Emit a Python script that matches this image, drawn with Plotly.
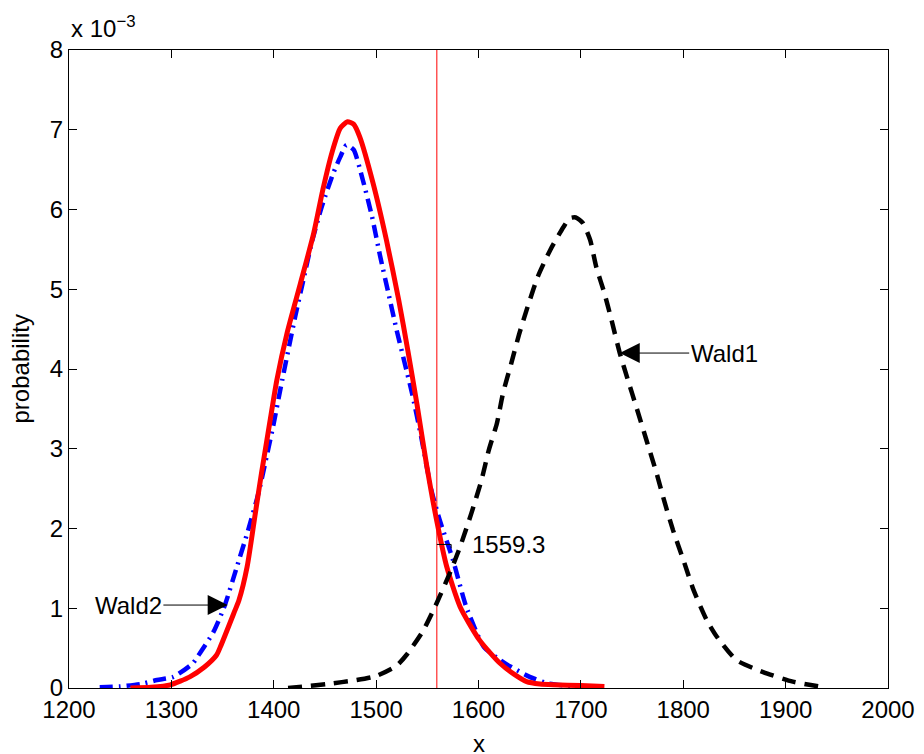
import plotly.graph_objects as go

# ---- data (probability values in units of 1e-3) ----
wald_red_x = [1260, 1280, 1299, 1318, 1332, 1344, 1348, 1362, 1366, 1374, 1382, 1388, 1396, 1403,
              1413, 1426, 1439, 1448, 1457, 1465, 1472, 1478, 1484, 1497, 1510, 1522, 1531, 1540,
              1549, 1559, 1569, 1582, 1601, 1621, 1635, 1647, 1660, 1673, 1700, 1723]
wald_red_y = [0.0, 0.01, 0.04, 0.14, 0.26, 0.41, 0.52, 0.97, 1.10, 1.52, 2.19, 2.69, 3.32, 3.86,
              4.45, 5.07, 5.70, 6.25, 6.72, 7.02, 7.10, 7.07, 6.91, 6.33, 5.62, 4.87, 4.23, 3.55,
              2.82, 2.11, 1.52, 1.02, 0.60, 0.31, 0.17, 0.08, 0.05, 0.04, 0.03, 0.02]

wald2_x = [1230, 1250, 1270, 1286, 1302, 1321, 1328, 1341, 1352, 1364, 1375, 1385, 1393, 1400,
           1407, 1421, 1429, 1437, 1447, 1458, 1465, 1471, 1478, 1487, 1496, 1504, 1512, 1520,
           1528, 1535, 1544, 1554, 1562, 1575, 1588, 1605, 1618, 1631, 1650, 1667, 1686, 1702]
wald2_y = [0.01, 0.02, 0.05, 0.10, 0.14, 0.31, 0.44, 0.70, 1.03, 1.52, 1.98, 2.44, 2.90, 3.32,
           3.78, 4.66, 5.12, 5.58, 6.04, 6.45, 6.66, 6.81, 6.75, 6.37, 5.91, 5.41, 4.95, 4.49,
           4.07, 3.70, 3.15, 2.48, 2.11, 1.61, 1.02, 0.52, 0.38, 0.27, 0.14, 0.06, 0.03, 0.02]

wald1_x = [1414, 1430, 1452, 1481, 1500, 1520, 1530, 1546, 1559, 1572, 1582, 1593, 1603, 1610,
           1618, 1624, 1632, 1640, 1649, 1658, 1670, 1683, 1689, 1695, 1702, 1709, 1715, 1723,
           1730, 1738, 1746, 1754, 1764, 1774, 1782, 1790, 1800, 1810, 1823, 1833, 1852, 1878,
           1907, 1937]
wald1_y = [0.0, 0.02, 0.05, 0.10, 0.15, 0.28, 0.42, 0.72, 1.06, 1.44, 1.77, 2.19, 2.61, 2.98,
           3.32, 3.70, 4.07, 4.45, 4.82, 5.16, 5.49, 5.78, 5.89, 5.90, 5.83, 5.62, 5.28, 4.95,
           4.61, 4.20, 3.86, 3.53, 3.11, 2.69, 2.32, 1.98, 1.61, 1.23, 0.85, 0.64, 0.35, 0.20,
           0.08, 0.01]

threshold = 1559.3
x_ticks = [1200, 1300, 1400, 1500, 1600, 1700, 1800, 1900, 2000]
y_ticks = [0, 1, 2, 3, 4, 5, 6, 7, 8]

FONT = "Liberation Sans, Arial, Helvetica, sans-serif"
FS = 24

fig = go.Figure()
fig.add_trace(go.Scatter(x=wald2_x, y=wald2_y, mode="lines",
                         line=dict(color="#0000ff", width=4.5, dash="13px,6px,2px,6px",
                                   shape="spline", smoothing=0.6),
                         showlegend=False, hoverinfo="skip"))
fig.add_trace(go.Scatter(x=wald_red_x, y=wald_red_y, mode="lines",
                         line=dict(color="#ff0000", width=5, shape="spline", smoothing=0.6),
                         showlegend=False, hoverinfo="skip"))
fig.add_trace(go.Scatter(x=wald1_x, y=wald1_y, mode="lines",
                         line=dict(color="black", width=4.5, dash="14px,9px",
                                   shape="spline", smoothing=0.6),
                         showlegend=False, hoverinfo="skip"))

# vertical threshold line
fig.add_shape(type="line", x0=threshold, x1=threshold, y0=0, y1=8, xref="x", yref="y",
              line=dict(color="#ff0000", width=1), layer="below")
# small marker next to the threshold label
fig.add_shape(type="line", x0=threshold, x1=threshold + 14, y0=1.80, y1=1.80,
              line=dict(color="black", width=1))
fig.add_shape(type="line", x0=threshold + 14, x1=threshold + 14, y0=1.80, y1=1.75,
              line=dict(color="black", width=1))

fig.add_annotation(x=threshold + 32, y=1.80, text="1559.3", showarrow=False,
                   xanchor="left", yanchor="middle", font=dict(size=FS, color="black", family=FONT))

fig.add_annotation(x=1738, y=4.20, ax=1840, ay=4.20, axref="x", ayref="y",
                   text="Wald1", showarrow=True, arrowhead=2, arrowsize=4, arrowwidth=1,
                   arrowcolor="black", font=dict(size=FS, color="black", family=FONT))
fig.add_annotation(x=1355, y=1.04, ax=1258, ay=1.04, axref="x", ayref="y",
                   text="Wald2", showarrow=True, arrowhead=2, arrowsize=4, arrowwidth=1,
                   arrowcolor="black", font=dict(size=FS, color="black", family=FONT))

fig.add_annotation(x=0, y=1, xref="paper", yref="paper", xanchor="left", yanchor="bottom",
                   yshift=6, text="x 10<sup>\u22123</sup>", showarrow=False,
                   font=dict(size=FS, color="black", family=FONT))

# axis titles as annotations to keep plot area fixed
fig.add_annotation(x=0.5, y=0, xref="paper", yref="paper", yanchor="top", yshift=-40,
                   text="x", showarrow=False, font=dict(size=FS, color="black", family=FONT))
fig.add_annotation(x=0, y=0.5, xref="paper", yref="paper", xanchor="right", xshift=-34,
                   text="probability", textangle=-90, showarrow=False,
                   font=dict(size=FS, color="black", family=FONT))

fig.update_xaxes(range=[1200, 2000], tickvals=x_ticks, ticks="inside", ticklen=8,
                 showline=True, linecolor="black", linewidth=1, mirror="ticks",
                 showgrid=False, zeroline=False, tickcolor="black", automargin=False,
                 tickfont=dict(size=FS, color="black", family=FONT))
fig.update_yaxes(range=[0, 8], tickvals=y_ticks, ticks="inside", ticklen=8,
                 showline=True, linecolor="black", linewidth=1, mirror="ticks",
                 showgrid=False, zeroline=False, tickcolor="black", automargin=False,
                 tickfont=dict(size=FS, color="black", family=FONT))

fig.update_layout(width=924, height=754, paper_bgcolor="white", plot_bgcolor="white",
                  margin=dict(l=69, r=36, t=50, b=66), showlegend=False)

fig.write_html("out.html", config={"displayModeBar": False},
               post_script="document.body.style.margin='0px';document.body.style.overflow='hidden';")
